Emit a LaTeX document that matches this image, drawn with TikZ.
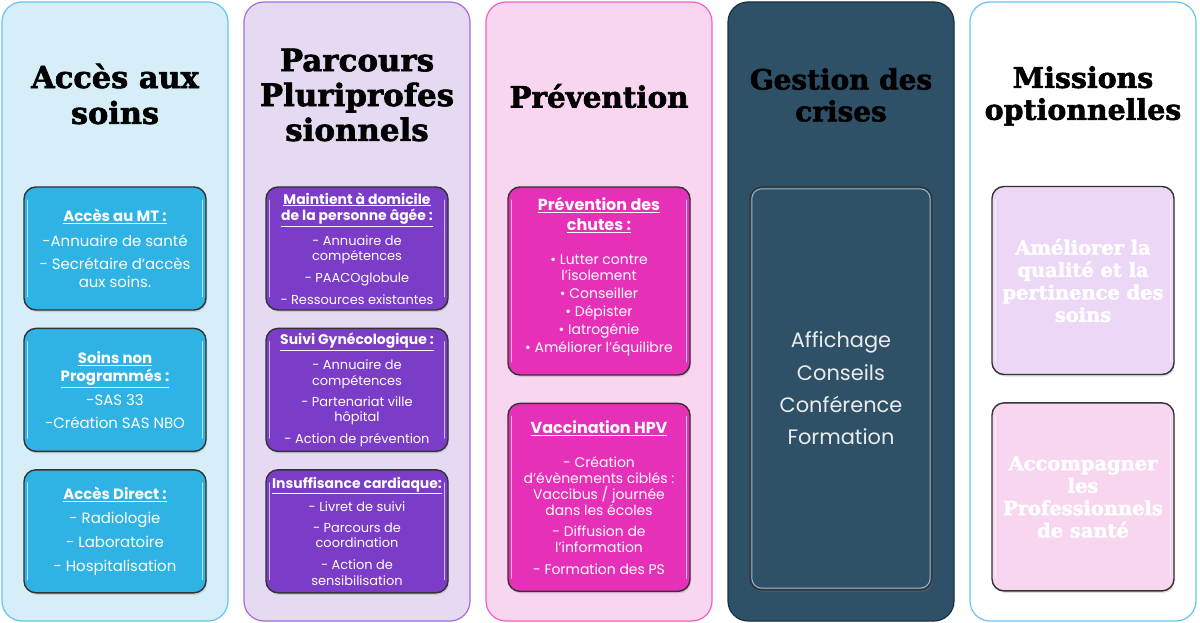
\documentclass[tikz,border=0pt]{standalone}
\usepackage{fontspec}
\setmainfont{Poppins}
\newfontfamily\titlefont{DejaVu Serif}[BoldFeatures={FakeBold=2}]
\usetikzlibrary{positioning,shadows}
\definecolor{accesbg}{HTML}{D6EEF8}
\definecolor{accesline}{HTML}{63C5EE}
\definecolor{accescard}{HTML}{2FB3E4}
\definecolor{parcbg}{HTML}{E6DAF3}
\definecolor{parcline}{HTML}{A66BD9}
\definecolor{parccard}{HTML}{7B3DC8}
\definecolor{prevbg}{HTML}{F9D6F0}
\definecolor{prevline}{HTML}{F25FCB}
\definecolor{prevcard}{HTML}{E730B8}
\definecolor{crisebg}{HTML}{2E5168}
\definecolor{criseline}{HTML}{1B2F3D}
\definecolor{criseglow}{HTML}{9DB7C8}
\definecolor{optcardA}{HTML}{EDD7F7}
\definecolor{optcardB}{HTML}{F8D6EF}
\newcommand\hd[1]{\textbf{\underline{#1}}}
\newcommand\hdmid[1]{{\fontsize{14}{14}\selectfont\hd{#1}}}
\newcommand\hdbig[1]{{\fontsize{16}{16}\selectfont\hd{#1}}}

\begin{document}
\begin{tikzpicture}[x=1bp,y=-1bp,
  column/.style={line width=1.2bp,rounded corners=20bp},
  title/.style={font=\titlefont\bfseries\fontsize{30.5}{36}\selectfont,align=center},
  card/.style={draw=black!80,line width=1.4bp,rounded corners=12bp,minimum width=182bp,
    inner sep=2bp,text=white,align=center,
    drop shadow={opacity=.25,shadow xshift=1bp,shadow yshift=-2bp}},
  small/.style={card,minimum height=123bp},
  tall/.style={card,minimum height=188bp},
  gloss/.style={white,opacity=.65,line width=1.5bp,line cap=round}]
  \useasboundingbox (0,0) rectangle (1200,623);
  \fill[white] (0,0) rectangle (1200,623);

  \draw[column,draw=accesline,fill=accesbg] (2,2) rectangle (228,621);
  \draw[column,draw=parcline,fill=parcbg] (244,2) rectangle (470,621);
  \draw[column,draw=prevline,fill=prevbg] (486,2) rectangle (712,621);
  \draw[column,draw=criseline,fill=crisebg] (728,2) rectangle (954,621);
  \draw[column,draw=accesline,fill=white] (970,2) rectangle (1196,621);

  \node[title] (acces) at (115,94) {Accès aux\\soins};
  \node[title,font=\titlefont\bfseries\fontsize{31}{35}\selectfont] (parcours) at (357,95) {Parcours\\Pluriprofes\\sionnels};
  \node[title,font=\titlefont\bfseries\fontsize{29.5}{35}\selectfont] (prevention) at (599,96) {Prévention};
  \node[title,font=\titlefont\bfseries\fontsize{28}{32}\selectfont] (crises) at (841,95) {Gestion des\\crises};
  \node[title,font=\titlefont\bfseries\fontsize{28.5}{32}\selectfont] (missions) at (1083,96) {Missions\\optionnelles};

  \node[small,fill=accescard,font=\fontsize{15}{18}\selectfont] (mt) at (115,248.5)
    {\hd{Accès au MT :}\\[7bp]-Annuaire de santé\\[5bp]- Secrétaire d’accès\\aux soins.};
  \node[small,fill=accescard,font=\fontsize{15}{18}\selectfont,below=17bp of mt] (sas)
    {\hd{Soins non}\\\hd{Programmés :}\\[6bp]-SAS 33\\[5bp]-Création SAS NBO};
  \node[small,fill=accescard,font=\fontsize{15}{18}\selectfont,below=17bp of sas] (direct)
    {\hd{Accès Direct :}\\[6bp]- Radiologie\\[6bp]- Laboratoire\\[6bp]- Hospitalisation};

  \node[small,fill=parccard,font=\fontsize{13}{15.5}\selectfont] (domicile) at (357,248.5)
    {\hdmid{Maintient à domicile}\\[1.5bp]\hdmid{de la personne âgée :}\\[7.5bp]- Annuaire de\\compétences\\[6.5bp]- PAACOglobule\\[6.5bp]- Ressources existantes};
  \node[small,fill=parccard,font=\fontsize{13}{15.5}\selectfont,below=17bp of domicile] (gyneco)
    {\hdmid{Suivi Gynécologique :}\\[8.5bp]- Annuaire de\\compétences\\[5.5bp]- Partenariat ville\\hôpital\\[6.5bp]- Action de prévention};
  \node[small,fill=parccard,font=\fontsize{13}{15.5}\selectfont,below=17bp of gyneco] (cardio)
    {\hdmid{Insuffisance cardiaque:}\\[6.5bp]- Livret de suivi\\[5.5bp]- Parcours de\\coordination\\[6.5bp]- Action de\\sensibilisation};

  \node[tall,fill=prevcard,font=\fontsize{14}{16}\selectfont,text depth=12bp] (chutes) at (599,281)
    {\hdbig{Prévention des}\\[4bp]\hdbig{chutes :}\\[18bp]• Lutter contre\\l’isolement\\[2bp]• Conseiller\\[2bp]• Dépister\\[2bp]• Iatrogénie\\[2bp]• Améliorer l’équilibre};
  \node[tall,fill=prevcard,font=\fontsize{14}{16}\selectfont,below=27bp of chutes] (hpv)
    {\hdbig{Vaccination HPV}\\[18bp]- Création\\d’évènements ciblés :\\Vaccibus / journée\\dans les écoles\\[5bp]- Diffusion de\\l’information\\[6bp]- Formation des PS};

  \node[card,fill=crisebg,minimum height=403bp,font=\fontsize{21}{32.5}\selectfont,text=white!92!black] (gestion) at (841,388.5)
    {Affichage\\Conseils\\Conférence\\Formation};
  \draw[criseglow,line width=1bp,rounded corners=10bp]
    ([shift={(2.5bp,-2.5bp)}]gestion.north west) rectangle ([shift={(-2.5bp,2.5bp)}]gestion.south east);

  \node[tall,fill=optcardA,font=\titlefont\bfseries\fontsize{19.5}{22.5}\selectfont] (qualite) at (1083,280.5)
    {Améliorer la\\qualité et la\\pertinence des\\soins};
  \node[tall,fill=optcardB,font=\titlefont\bfseries\fontsize{19.5}{22.5}\selectfont,below=27bp of qualite] (accompagner)
    {Accompagner\\les\\Professionnels\\de santé};

  \foreach \n in {mt,sas,direct,domicile,gyneco,cardio,chutes,hpv,qualite,accompagner}{
    \draw[gloss] ([shift={(4bp,-14bp)}]\n.north west) -- ([shift={(4bp,14bp)}]\n.south west);
    \draw[gloss] ([shift={(-4bp,-14bp)}]\n.north east) -- ([shift={(-4bp,14bp)}]\n.south east);
  }
\end{tikzpicture}
\end{document}
